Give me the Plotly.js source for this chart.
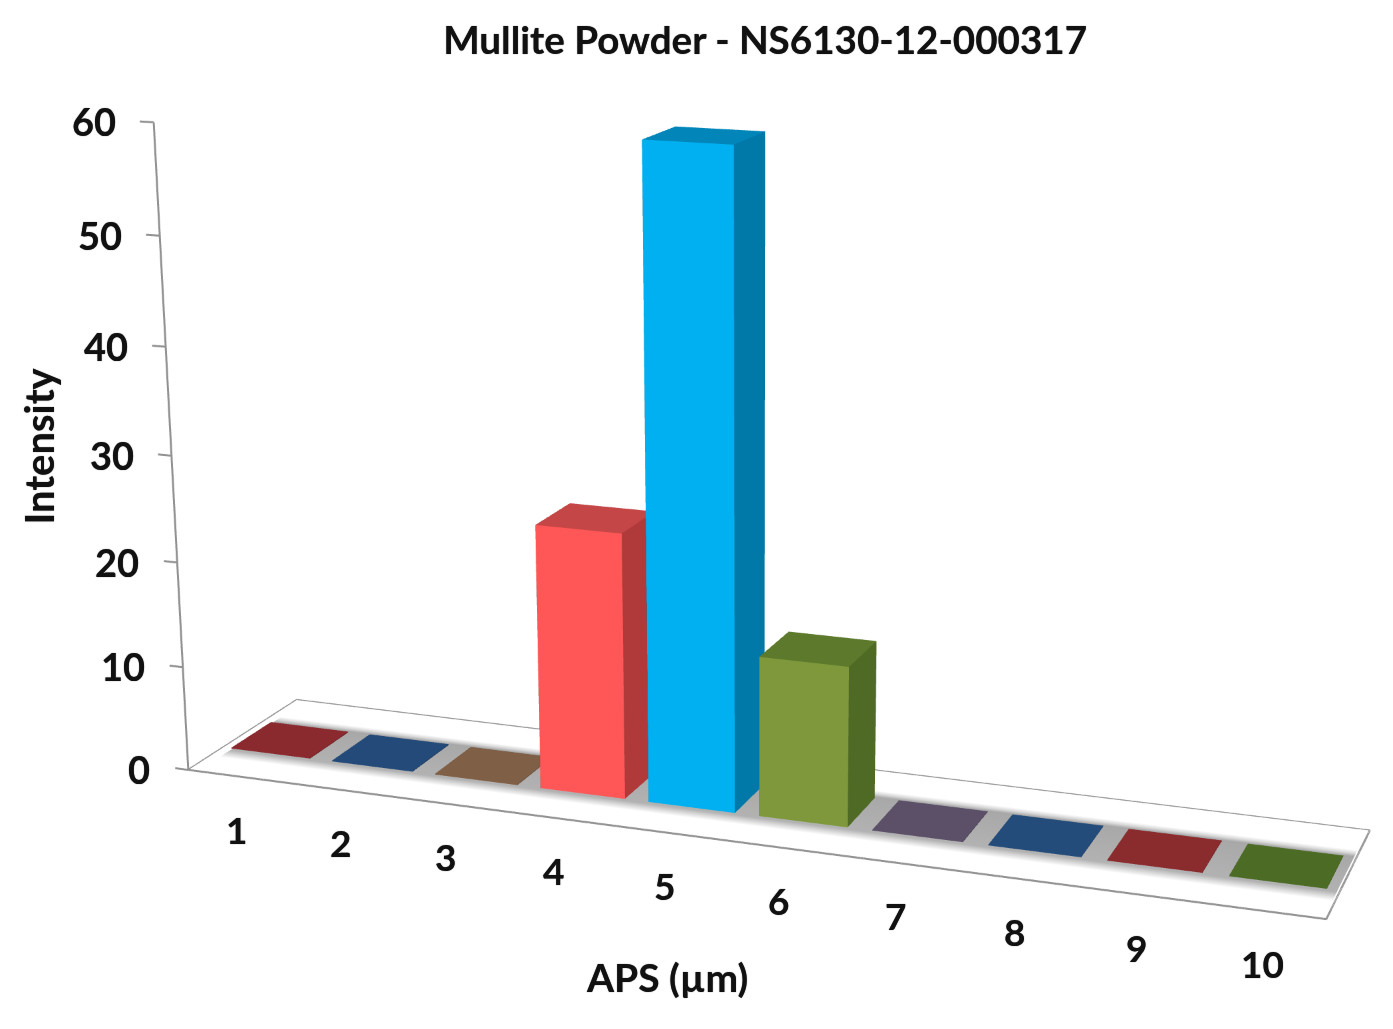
<!DOCTYPE html><html><head><meta charset="utf-8"><script src="https://cdn.plot.ly/plotly-3.0.1.min.js"></script>
<style>html,body{margin:0;padding:0;width:1393px;height:1029px;overflow:hidden;background:#fff}#box{position:absolute;width:1393px;height:1029px;overflow:hidden}#g{position:absolute}</style></head>
<body><div id="box"><div id="g"></div></div>
<script>
// ---- data
const categories=['1','2','3','4','5','6','7','8','9','10'];
const intensity=[0.1,0.1,0.1,24.9,59.8,14.9,0.1,0.1,0.1,0.1];
const frontColors=['#8A2A2E','#234A78','#7F5F45','#FF5757','#00B0F0','#7F983B','#5B5068','#244C7A','#8A2B2D','#4C6B24'];
const sideColors=['#6E2225','#1C3B60','#664C37','#B03A3A','#0079A8','#4F6A25','#494053','#1D3D62','#6E2224','#3D561D'];
const topColors=['#8A2A2E','#234A78','#7F5F45','#C44646','#0286BA','#5D7A2C','#5B5068','#244C7A','#8A2B2D','#4C6B24'];
const yTicks=[0,10,20,30,40,50,60];
const titleText='Mullite Powder - NS6130-12-000317';
const xTitle='APS (µm)';
const yTitle='Intensity';
// ---- view
const S=2660, LEFT=752.83-S/2, TOP=583.68-S/2;
const FX=[0.5221,10.4969], FY=[0,1], TICK=0.13;
const XR=[FX[0]-TICK-0.02,FX[1]+0.04], YR=[-0.03,1.03], ZR=[-0.6,60.6];
const Y0=0.30577, Y1=0.67168, HW=0.3917;
const unit=[0.1,0.2029,0.5673/60];          // scene length per data unit
const fitMid=[5.5095,0.5,30];               // data point at the scene origin for the camera below
const eye0=[0.86445,-2.42365,0.6762], center0=[-0.52585,1.43065,-0.5467];
const ranges=[XR,YR,ZR], mids=ranges.map(r=>(r[0]+r[1])/2);
const shift=k=>(fitMid[k]-mids[k])*unit[k];
const xyz=a=>({x:a[0]+shift(0),y:a[1]+shift(1),z:a[2]+shift(2)});
const gEl=document.getElementById('g');
gEl.style.cssText=`left:${LEFT}px;top:${TOP}px;width:${S}px;height:${S}px`;
const FONT='Lato, "Open Sans", sans-serif', INK='#111111', LINE='#929292', HEAVY='0 0 1px rgba(0,0,0,0.75)';
const flat={ambient:1,diffuse:0,specular:0,roughness:1,fresnel:0};
const traces=[];
// floor
traces.push({type:'mesh3d',x:[FX[0],FX[1],FX[1],FX[0]],y:[0,0,1,1],z:[0,0,0,0],i:[0,0],j:[1,2],k:[2,3],color:'#ffffff',lighting:flat,flatshading:true,hoverinfo:'skip'});
// grey band under the bars
const bandY=[0.19,0.235,0.285,0.685,0.72,0.76], bandC=['#ffffff','#dcdcdc','#b2b2b2','#a8a8a8','#d8d8d8','#ffffff'];
const bx=[],by=[],bz=[],bc=[],bi=[],bj=[],bk=[];
bandY.forEach((y,n)=>{[0.62,FX[1]-0.02].forEach(x=>{bx.push(x);by.push(y);bz.push(0.02);bc.push(bandC[n])})});
for(let n=0;n<bandY.length-1;n++){const a=2*n;bi.push(a,a);bj.push(a+1,a+3);bk.push(a+3,a+2)}
traces.push({type:'mesh3d',x:bx,y:by,z:bz,i:bi,j:bj,k:bk,vertexcolor:bc,lighting:flat,hoverinfo:'skip'});
// bars
categories.forEach((c,n)=>{
  const xc=n+1,v=intensity[n],x0=xc-HW,x1=xc+HW;
  const x=[x0,x1,x1,x0,x0,x1,x1,x0],y=[Y0,Y0,Y1,Y1,Y0,Y0,Y1,Y1],z=[0,0,0,0,v,v,v,v];
  const I=[0,0,1,1,4,4,3,3,0,0,2,2],J=[1,5,2,6,5,6,7,4,4,7,3,7],K=[5,4,6,5,6,7,4,0,7,3,7,6];
  const fc=[frontColors[n],frontColors[n],sideColors[n],sideColors[n],topColors[n],topColors[n],sideColors[n],sideColors[n],sideColors[n],sideColors[n],sideColors[n],sideColors[n]];
  traces.push({type:'mesh3d',name:c,x,y,z,i:I,j:J,k:K,facecolor:fc,flatshading:true,lighting:flat,hoverinfo:'skip'});
});
// floor outline, wall line, ticks
const L=(x,y,z)=>traces.push({type:'scatter3d',mode:'lines',x,y,z,line:{color:LINE,width:4},hoverinfo:'skip',showlegend:false});
L([FX[0],FX[1],FX[1],FX[0],FX[0]],[0,0,1,1,0],[0,0,0,0,0]);
L([FX[0],FX[0]],[0,0],[yTicks[0],yTicks[yTicks.length-1]]);
yTicks.forEach(t=>L([FX[0]-TICK,FX[0]],[0,0],[t,t]));
// text
const ann3=[];
yTicks.forEach(t=>ann3.push({x:FX[0],y:0,z:t,text:'<b>'+t+'</b>',showarrow:false,xanchor:'right',yanchor:'middle',xshift:-36,yshift:1,font:{family:FONT,size:38,color:INK,shadow:HEAVY}}));
categories.forEach((c,n)=>ann3.push({x:n+1,y:0,z:0,text:'<b>'+c+'</b>',showarrow:false,xanchor:'center',yanchor:'middle',yshift:-53,font:{family:FONT,size:37,color:INK,shadow:HEAVY}}));
const px=v=>(v-LEFT)/S, py=v=>1-(v-TOP)/S;
Plotly.newPlot('g',traces,{
  width:S,height:S,margin:{l:0,r:0,t:0,b:0},paper_bgcolor:'#fff',showlegend:false,
  title:{text:'<b>'+titleText+'</b>',x:px(765),y:py(40),xref:'paper',yref:'paper',xanchor:'center',yanchor:'middle',font:{family:FONT,size:38.6,color:INK,shadow:HEAVY}},
  annotations:[
   {xref:'paper',yref:'paper',x:px(667),y:py(977),text:'<b>'+xTitle+'</b>',showarrow:false,xanchor:'center',yanchor:'middle',font:{family:FONT,size:39,color:INK,shadow:HEAVY}},
   {xref:'paper',yref:'paper',x:px(39),y:py(446),text:'<b>'+yTitle+'</b>',textangle:-90,showarrow:false,xanchor:'center',yanchor:'middle',font:{family:FONT,size:40,color:INK,shadow:HEAVY}}
  ],
  scene:{domain:{x:[0,1],y:[0,1]},aspectmode:'manual',
    aspectratio:{x:(XR[1]-XR[0])*unit[0],y:(YR[1]-YR[0])*unit[1],z:(ZR[1]-ZR[0])*unit[2]},
    xaxis:{range:XR,visible:false},yaxis:{range:YR,visible:false},zaxis:{range:ZR,visible:false},
    camera:{eye:xyz(eye0),center:xyz(center0),up:{x:0,y:0,z:1},projection:{type:'perspective'}},
    annotations:ann3}
},{displayModeBar:false,plotGlPixelRatio:1.5});
</script></body></html>
